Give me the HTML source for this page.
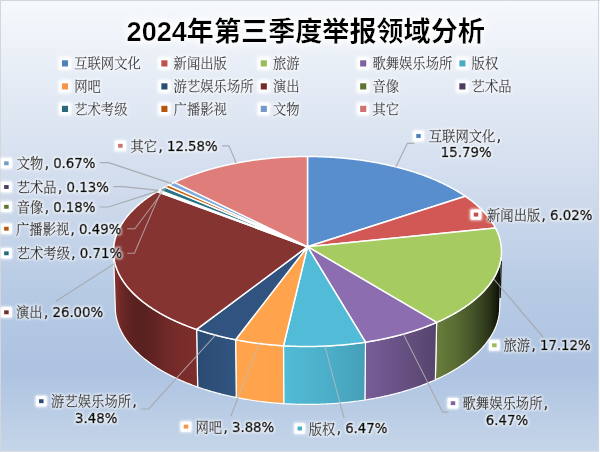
<!DOCTYPE html><html lang="zh"><head><meta charset="utf-8"><title>2024年第三季度举报领域分析</title><style>html,body{margin:0;padding:0;background:#fff;overflow:hidden;font-family:"Liberation Sans",sans-serif}#chart{position:relative;width:600px;height:452px;overflow:hidden}svg{display:block}.sr{position:absolute;left:0;top:0;width:1px;height:1px;overflow:hidden;opacity:0;pointer-events:none;font-size:1px;line-height:1px}</style></head><body><div id="chart"><svg width="600" height="452" viewBox="0 0 600 452"><defs><linearGradient id="bg" x1="0" y1="0" x2="0" y2="1"><stop offset="0" stop-color="#f6f9fc"/><stop offset="0.22" stop-color="#e2e9f4"/><stop offset="0.44" stop-color="#cedaec"/><stop offset="0.65" stop-color="#b6cae4"/><stop offset="0.82" stop-color="#adc3e1"/><stop offset="1" stop-color="#c6d6e9"/></linearGradient><filter id="glow" x="-10%" y="-30%" width="120%" height="160%">
<feMorphology in="SourceAlpha" operator="dilate" radius="1" result="d"/>
<feGaussianBlur in="d" stdDeviation="1.1" result="b"/>
<feFlood flood-color="#fff" flood-opacity="0.7"/><feComposite in2="b" operator="in" result="g"/>
<feMerge><feMergeNode in="g"/><feMergeNode in="SourceGraphic"/></feMerge></filter><filter id="soft" x="-30%" y="-30%" width="160%" height="160%"><feGaussianBlur stdDeviation="0.8"/></filter><filter id="tglow" x="-5%" y="-40%" width="110%" height="180%">
<feMorphology in="SourceAlpha" operator="dilate" radius="2" result="d"/>
<feGaussianBlur in="d" stdDeviation="3" result="b"/>
<feFlood flood-color="#fff" flood-opacity="0.9"/><feComposite in2="b" operator="in" result="g"/>
<feMerge><feMergeNode in="g"/><feMergeNode in="SourceGraphic"/></feMerge></filter><linearGradient id="w2" gradientUnits="userSpaceOnUse" x1="435.37" y1="0" x2="501.47" y2="0"><stop offset="0.019" stop-color="#687d3c"/><stop offset="0.095" stop-color="#64793a"/><stop offset="0.167" stop-color="#607437"/><stop offset="0.238" stop-color="#5d7035"/><stop offset="0.305" stop-color="#596c33"/><stop offset="0.370" stop-color="#556631"/><stop offset="0.432" stop-color="#50602e"/><stop offset="0.491" stop-color="#4b5b2b"/><stop offset="0.546" stop-color="#465528"/><stop offset="0.599" stop-color="#414f26"/><stop offset="0.649" stop-color="#3d4923"/><stop offset="0.695" stop-color="#384420"/><stop offset="0.739" stop-color="#333e1d"/><stop offset="0.779" stop-color="#2f381b"/><stop offset="0.816" stop-color="#293218"/><stop offset="0.849" stop-color="#242b14"/><stop offset="0.879" stop-color="#1e2411"/><stop offset="0.906" stop-color="#191f0f"/><stop offset="0.930" stop-color="#15190c"/><stop offset="0.950" stop-color="#101309"/><stop offset="0.967" stop-color="#0c0e07"/><stop offset="0.980" stop-color="#0a0c06"/><stop offset="0.990" stop-color="#090a05"/><stop offset="0.997" stop-color="#070804"/><stop offset="1.000" stop-color="#060703"/></linearGradient><linearGradient id="w3" gradientUnits="userSpaceOnUse" x1="364.91" y1="0" x2="436.63" y2="0"><stop offset="0.008" stop-color="#785d97"/><stop offset="0.054" stop-color="#765c95"/><stop offset="0.099" stop-color="#755b94"/><stop offset="0.144" stop-color="#735a92"/><stop offset="0.189" stop-color="#725990"/><stop offset="0.234" stop-color="#70588e"/><stop offset="0.278" stop-color="#6f578c"/><stop offset="0.322" stop-color="#6d558a"/><stop offset="0.365" stop-color="#6c5489"/><stop offset="0.408" stop-color="#6a5387"/><stop offset="0.451" stop-color="#695285"/><stop offset="0.493" stop-color="#685183"/><stop offset="0.535" stop-color="#665081"/><stop offset="0.577" stop-color="#654f80"/><stop offset="0.618" stop-color="#634e7e"/><stop offset="0.658" stop-color="#624d7c"/><stop offset="0.698" stop-color="#614c7a"/><stop offset="0.738" stop-color="#5f4b79"/><stop offset="0.777" stop-color="#5e4977"/><stop offset="0.815" stop-color="#5d4875"/><stop offset="0.853" stop-color="#5b4774"/><stop offset="0.891" stop-color="#5a4672"/><stop offset="0.928" stop-color="#594570"/><stop offset="0.964" stop-color="#57446f"/><stop offset="1.000" stop-color="#56436d"/></linearGradient><linearGradient id="w4" gradientUnits="userSpaceOnUse" x1="283.52" y1="0" x2="365.48" y2="0"><stop offset="0.000" stop-color="#52bbd8"/><stop offset="0.042" stop-color="#51bad6"/><stop offset="0.084" stop-color="#51b9d5"/><stop offset="0.126" stop-color="#50b8d4"/><stop offset="0.168" stop-color="#50b7d3"/><stop offset="0.210" stop-color="#50b6d2"/><stop offset="0.252" stop-color="#4fb5d1"/><stop offset="0.294" stop-color="#4fb4d0"/><stop offset="0.337" stop-color="#4eb3cf"/><stop offset="0.379" stop-color="#4eb2cd"/><stop offset="0.421" stop-color="#4db1cc"/><stop offset="0.463" stop-color="#4db1cb"/><stop offset="0.505" stop-color="#4db0ca"/><stop offset="0.547" stop-color="#4caec9"/><stop offset="0.589" stop-color="#4badc7"/><stop offset="0.631" stop-color="#4babc5"/><stop offset="0.672" stop-color="#4aaac4"/><stop offset="0.714" stop-color="#4aa9c2"/><stop offset="0.755" stop-color="#49a7c1"/><stop offset="0.797" stop-color="#48a6bf"/><stop offset="0.838" stop-color="#48a4bd"/><stop offset="0.879" stop-color="#47a3bc"/><stop offset="0.919" stop-color="#46a2ba"/><stop offset="0.960" stop-color="#46a0b9"/><stop offset="1.000" stop-color="#459fb7"/></linearGradient><linearGradient id="w5" gradientUnits="userSpaceOnUse" x1="235.55" y1="0" x2="283.76" y2="0"><stop offset="0.000" stop-color="#ffa34c"/><stop offset="0.040" stop-color="#ffa34c"/><stop offset="0.080" stop-color="#ffa34c"/><stop offset="0.120" stop-color="#ffa34c"/><stop offset="0.161" stop-color="#ffa34c"/><stop offset="0.201" stop-color="#ffa34c"/><stop offset="0.242" stop-color="#ffa34c"/><stop offset="0.283" stop-color="#ffa34c"/><stop offset="0.324" stop-color="#ffa34c"/><stop offset="0.365" stop-color="#ffa34c"/><stop offset="0.406" stop-color="#ffa34c"/><stop offset="0.447" stop-color="#ffa34c"/><stop offset="0.489" stop-color="#ffa34c"/><stop offset="0.531" stop-color="#ffa34c"/><stop offset="0.572" stop-color="#ffa34c"/><stop offset="0.614" stop-color="#ffa34c"/><stop offset="0.656" stop-color="#ffa34c"/><stop offset="0.698" stop-color="#ffa24c"/><stop offset="0.740" stop-color="#ffa24c"/><stop offset="0.783" stop-color="#ffa24c"/><stop offset="0.825" stop-color="#ffa24c"/><stop offset="0.867" stop-color="#ffa24c"/><stop offset="0.910" stop-color="#ffa24c"/><stop offset="0.952" stop-color="#ffa24c"/><stop offset="0.995" stop-color="#ffa24c"/></linearGradient><linearGradient id="w6" gradientUnits="userSpaceOnUse" x1="196.59" y1="0" x2="236.26" y2="0"><stop offset="0.000" stop-color="#2b4b71"/><stop offset="0.038" stop-color="#2b4b72"/><stop offset="0.077" stop-color="#2b4b73"/><stop offset="0.116" stop-color="#2b4c73"/><stop offset="0.155" stop-color="#2c4c74"/><stop offset="0.194" stop-color="#2c4d75"/><stop offset="0.233" stop-color="#2c4d76"/><stop offset="0.273" stop-color="#2c4e76"/><stop offset="0.313" stop-color="#2d4e77"/><stop offset="0.353" stop-color="#2d4f78"/><stop offset="0.394" stop-color="#2d4f78"/><stop offset="0.434" stop-color="#2e5079"/><stop offset="0.475" stop-color="#2e507a"/><stop offset="0.516" stop-color="#2e517a"/><stop offset="0.558" stop-color="#2e517b"/><stop offset="0.599" stop-color="#2f517c"/><stop offset="0.641" stop-color="#2f527c"/><stop offset="0.683" stop-color="#2f527d"/><stop offset="0.725" stop-color="#2f537e"/><stop offset="0.768" stop-color="#30537f"/><stop offset="0.810" stop-color="#30547f"/><stop offset="0.853" stop-color="#305480"/><stop offset="0.896" stop-color="#305581"/><stop offset="0.939" stop-color="#315581"/><stop offset="0.982" stop-color="#315682"/></linearGradient><linearGradient id="w7" gradientUnits="userSpaceOnUse" x1="113.53" y1="0" x2="197.67" y2="0"><stop offset="0.000" stop-color="#86322f"/><stop offset="0.003" stop-color="#86312f"/><stop offset="0.010" stop-color="#85312f"/><stop offset="0.020" stop-color="#82302e"/><stop offset="0.033" stop-color="#7f2f2d"/><stop offset="0.050" stop-color="#7a2d2b"/><stop offset="0.071" stop-color="#742b29"/><stop offset="0.095" stop-color="#6d2827"/><stop offset="0.122" stop-color="#682725"/><stop offset="0.153" stop-color="#642523"/><stop offset="0.187" stop-color="#5f2322"/><stop offset="0.224" stop-color="#5c2221"/><stop offset="0.265" stop-color="#5b2120"/><stop offset="0.309" stop-color="#59211f"/><stop offset="0.356" stop-color="#59211f"/><stop offset="0.406" stop-color="#5c2221"/><stop offset="0.460" stop-color="#5f2322"/><stop offset="0.516" stop-color="#652524"/><stop offset="0.575" stop-color="#6a2725"/><stop offset="0.637" stop-color="#6f2927"/><stop offset="0.702" stop-color="#732a29"/><stop offset="0.770" stop-color="#772c2a"/><stop offset="0.840" stop-color="#792d2b"/><stop offset="0.912" stop-color="#7b2d2b"/><stop offset="0.987" stop-color="#7d2e2c"/></linearGradient><clipPath id="sil"><polygon points="113.53,253.01 113.5,251.35 113.54,249.68 113.63,248.02 113.79,246.36 114,244.7 114.27,243.05 114.6,241.4 114.99,239.75 115.44,238.11 115.94,236.48 116.5,234.85 117.12,233.23 117.8,231.61 118.53,230 119.32,228.4 120.17,226.81 121.07,225.23 122.02,223.66 123.03,222.09 124.09,220.54 125.21,218.99 126.38,217.46 127.6,215.94 128.88,214.43 130.2,212.93 131.58,211.45 133.01,209.98 134.49,208.52 136.02,207.07 137.59,205.64 139.22,204.23 140.89,202.83 142.62,201.44 144.38,200.07 146.2,198.72 148.06,197.38 149.96,196.06 151.91,194.75 153.9,193.47 155.94,192.2 158.01,190.94 160.13,189.71 162.29,188.5 164.49,187.3 166.73,186.13 169.01,184.97 171.33,183.83 173.68,182.71 176.07,181.62 178.5,180.54 180.96,179.49 183.46,178.45 185.99,177.44 188.55,176.45 191.15,175.48 193.77,174.53 196.43,173.6 199.12,172.7 201.84,171.82 204.58,170.96 207.36,170.13 210.16,169.32 212.98,168.53 215.83,167.77 218.71,167.03 221.61,166.31 224.53,165.62 227.48,164.95 230.45,164.31 233.43,163.69 236.44,163.1 239.46,162.53 242.51,161.98 245.57,161.46 248.65,160.97 251.74,160.5 254.85,160.06 257.97,159.64 261.1,159.25 264.25,158.88 267.41,158.54 270.57,158.23 273.75,157.94 276.94,157.68 280.14,157.44 283.34,157.23 286.55,157.05 289.76,156.89 292.98,156.76 296.2,156.65 299.43,156.57 302.66,156.52 305.89,156.5 309.11,156.5 312.34,156.52 315.57,156.57 318.8,156.65 322.02,156.76 325.24,156.89 328.45,157.05 331.66,157.23 334.86,157.44 338.06,157.68 341.25,157.94 344.43,158.23 347.59,158.54 350.75,158.88 353.9,159.25 357.03,159.64 360.15,160.06 363.26,160.5 366.35,160.97 369.43,161.46 372.49,161.98 375.54,162.53 378.56,163.1 381.57,163.69 384.55,164.31 387.52,164.95 390.47,165.62 393.39,166.31 396.29,167.03 399.17,167.77 402.02,168.53 404.84,169.32 407.64,170.13 410.42,170.96 413.16,171.82 415.88,172.7 418.57,173.6 421.23,174.53 423.85,175.48 426.45,176.45 429.01,177.44 431.54,178.45 434.04,179.49 436.5,180.54 438.93,181.62 441.32,182.71 443.67,183.83 445.99,184.97 448.27,186.13 450.51,187.3 452.71,188.5 454.87,189.71 456.99,190.94 459.06,192.2 461.1,193.47 463.09,194.75 465.04,196.06 466.94,197.38 468.8,198.72 470.62,200.07 472.38,201.44 474.11,202.83 475.78,204.23 477.41,205.64 478.98,207.07 480.51,208.52 481.99,209.98 483.42,211.45 484.8,212.93 486.12,214.43 487.4,215.94 488.62,217.46 489.79,218.99 490.91,220.54 491.97,222.09 492.98,223.66 493.93,225.23 494.83,226.81 495.68,228.4 496.47,230 497.2,231.61 497.88,233.23 498.5,234.85 499.06,236.48 499.56,238.11 500.01,239.75 500.4,241.4 500.73,243.05 501,244.7 501.21,246.36 501.37,248.02 501.46,249.68 501.5,251.35 501.47,253.01 499.65,309.09 499.56,310.79 499.42,312.49 499.22,314.18 498.95,315.88 498.63,317.58 498.25,319.28 497.81,320.97 497.31,322.66 496.75,324.35 496.13,326.03 495.45,327.71 494.71,329.39 493.91,331.06 493.05,332.72 492.13,334.38 491.16,336.03 490.12,337.67 489.03,339.31 487.88,340.93 486.67,342.55 485.4,344.15 484.07,345.75 482.69,347.33 481.25,348.91 479.75,350.47 478.2,352.02 476.59,353.55 474.92,355.07 473.2,356.58 471.43,358.08 469.6,359.55 467.71,361.02 465.78,362.46 463.79,363.89 461.75,365.3 459.65,366.7 457.51,368.07 455.31,369.43 453.07,370.77 450.78,372.09 448.43,373.38 446.04,374.66 443.61,375.92 441.12,377.15 438.6,378.36 436.02,379.55 433.41,380.72 430.75,381.86 428.04,382.98 425.3,384.07 422.51,385.14 419.69,386.18 416.83,387.2 413.93,388.19 410.99,389.16 408.01,390.1 405.01,391.01 401.96,391.9 398.89,392.75 395.78,393.58 392.64,394.38 389.48,395.15 386.28,395.89 383.06,396.61 379.81,397.29 376.53,397.94 373.23,398.57 369.91,399.16 366.56,399.72 363.2,400.25 359.81,400.75 356.41,401.22 352.99,401.66 349.55,402.06 346.1,402.44 342.63,402.78 339.16,403.09 335.67,403.37 332.17,403.61 328.66,403.82 325.15,404 321.62,404.15 318.1,404.27 314.57,404.35 311.03,404.4 307.5,404.41 303.97,404.4 300.43,404.35 296.9,404.27 293.38,404.15 289.85,404 286.34,403.82 282.83,403.61 279.33,403.37 275.84,403.09 272.37,402.78 268.9,402.44 265.45,402.06 262.01,401.66 258.59,401.22 255.19,400.75 251.8,400.25 248.44,399.72 245.09,399.16 241.77,398.57 238.47,397.94 235.19,397.29 231.94,396.61 228.72,395.89 225.52,395.15 222.36,394.38 219.22,393.58 216.11,392.75 213.04,391.9 209.99,391.01 206.99,390.1 204.01,389.16 201.07,388.19 198.17,387.2 195.31,386.18 192.49,385.14 189.7,384.07 186.96,382.98 184.25,381.86 181.59,380.72 178.98,379.55 176.4,378.36 173.88,377.15 171.39,375.92 168.96,374.66 166.57,373.38 164.22,372.09 161.93,370.77 159.69,369.43 157.49,368.07 155.35,366.7 153.25,365.3 151.21,363.89 149.22,362.46 147.29,361.02 145.4,359.55 143.57,358.08 141.8,356.58 140.08,355.07 138.41,353.55 136.8,352.02 135.25,350.47 133.75,348.91 132.31,347.33 130.93,345.75 129.6,344.15 128.33,342.55 127.12,340.93 125.97,339.31 124.88,337.67 123.84,336.03 122.87,334.38 121.95,332.72 121.09,331.06 120.29,329.39 119.55,327.71 118.87,326.03 118.25,324.35 117.69,322.66 117.19,320.97 116.75,319.28 116.37,317.58 116.05,315.88 115.78,314.18 115.58,312.49 115.44,310.79 115.35,309.09"/></clipPath><clipPath id="nsil"><path clip-rule="evenodd" d="M0,0H600V452H0Z M113.53,253.01 L113.5,251.35 L113.54,249.68 L113.63,248.02 L113.79,246.36 L114,244.7 L114.27,243.05 L114.6,241.4 L114.99,239.75 L115.44,238.11 L115.94,236.48 L116.5,234.85 L117.12,233.23 L117.8,231.61 L118.53,230 L119.32,228.4 L120.17,226.81 L121.07,225.23 L122.02,223.66 L123.03,222.09 L124.09,220.54 L125.21,218.99 L126.38,217.46 L127.6,215.94 L128.88,214.43 L130.2,212.93 L131.58,211.45 L133.01,209.98 L134.49,208.52 L136.02,207.07 L137.59,205.64 L139.22,204.23 L140.89,202.83 L142.62,201.44 L144.38,200.07 L146.2,198.72 L148.06,197.38 L149.96,196.06 L151.91,194.75 L153.9,193.47 L155.94,192.2 L158.01,190.94 L160.13,189.71 L162.29,188.5 L164.49,187.3 L166.73,186.13 L169.01,184.97 L171.33,183.83 L173.68,182.71 L176.07,181.62 L178.5,180.54 L180.96,179.49 L183.46,178.45 L185.99,177.44 L188.55,176.45 L191.15,175.48 L193.77,174.53 L196.43,173.6 L199.12,172.7 L201.84,171.82 L204.58,170.96 L207.36,170.13 L210.16,169.32 L212.98,168.53 L215.83,167.77 L218.71,167.03 L221.61,166.31 L224.53,165.62 L227.48,164.95 L230.45,164.31 L233.43,163.69 L236.44,163.1 L239.46,162.53 L242.51,161.98 L245.57,161.46 L248.65,160.97 L251.74,160.5 L254.85,160.06 L257.97,159.64 L261.1,159.25 L264.25,158.88 L267.41,158.54 L270.57,158.23 L273.75,157.94 L276.94,157.68 L280.14,157.44 L283.34,157.23 L286.55,157.05 L289.76,156.89 L292.98,156.76 L296.2,156.65 L299.43,156.57 L302.66,156.52 L305.89,156.5 L309.11,156.5 L312.34,156.52 L315.57,156.57 L318.8,156.65 L322.02,156.76 L325.24,156.89 L328.45,157.05 L331.66,157.23 L334.86,157.44 L338.06,157.68 L341.25,157.94 L344.43,158.23 L347.59,158.54 L350.75,158.88 L353.9,159.25 L357.03,159.64 L360.15,160.06 L363.26,160.5 L366.35,160.97 L369.43,161.46 L372.49,161.98 L375.54,162.53 L378.56,163.1 L381.57,163.69 L384.55,164.31 L387.52,164.95 L390.47,165.62 L393.39,166.31 L396.29,167.03 L399.17,167.77 L402.02,168.53 L404.84,169.32 L407.64,170.13 L410.42,170.96 L413.16,171.82 L415.88,172.7 L418.57,173.6 L421.23,174.53 L423.85,175.48 L426.45,176.45 L429.01,177.44 L431.54,178.45 L434.04,179.49 L436.5,180.54 L438.93,181.62 L441.32,182.71 L443.67,183.83 L445.99,184.97 L448.27,186.13 L450.51,187.3 L452.71,188.5 L454.87,189.71 L456.99,190.94 L459.06,192.2 L461.1,193.47 L463.09,194.75 L465.04,196.06 L466.94,197.38 L468.8,198.72 L470.62,200.07 L472.38,201.44 L474.11,202.83 L475.78,204.23 L477.41,205.64 L478.98,207.07 L480.51,208.52 L481.99,209.98 L483.42,211.45 L484.8,212.93 L486.12,214.43 L487.4,215.94 L488.62,217.46 L489.79,218.99 L490.91,220.54 L491.97,222.09 L492.98,223.66 L493.93,225.23 L494.83,226.81 L495.68,228.4 L496.47,230 L497.2,231.61 L497.88,233.23 L498.5,234.85 L499.06,236.48 L499.56,238.11 L500.01,239.75 L500.4,241.4 L500.73,243.05 L501,244.7 L501.21,246.36 L501.37,248.02 L501.46,249.68 L501.5,251.35 L501.47,253.01 L499.65,309.09 L499.56,310.79 L499.42,312.49 L499.22,314.18 L498.95,315.88 L498.63,317.58 L498.25,319.28 L497.81,320.97 L497.31,322.66 L496.75,324.35 L496.13,326.03 L495.45,327.71 L494.71,329.39 L493.91,331.06 L493.05,332.72 L492.13,334.38 L491.16,336.03 L490.12,337.67 L489.03,339.31 L487.88,340.93 L486.67,342.55 L485.4,344.15 L484.07,345.75 L482.69,347.33 L481.25,348.91 L479.75,350.47 L478.2,352.02 L476.59,353.55 L474.92,355.07 L473.2,356.58 L471.43,358.08 L469.6,359.55 L467.71,361.02 L465.78,362.46 L463.79,363.89 L461.75,365.3 L459.65,366.7 L457.51,368.07 L455.31,369.43 L453.07,370.77 L450.78,372.09 L448.43,373.38 L446.04,374.66 L443.61,375.92 L441.12,377.15 L438.6,378.36 L436.02,379.55 L433.41,380.72 L430.75,381.86 L428.04,382.98 L425.3,384.07 L422.51,385.14 L419.69,386.18 L416.83,387.2 L413.93,388.19 L410.99,389.16 L408.01,390.1 L405.01,391.01 L401.96,391.9 L398.89,392.75 L395.78,393.58 L392.64,394.38 L389.48,395.15 L386.28,395.89 L383.06,396.61 L379.81,397.29 L376.53,397.94 L373.23,398.57 L369.91,399.16 L366.56,399.72 L363.2,400.25 L359.81,400.75 L356.41,401.22 L352.99,401.66 L349.55,402.06 L346.1,402.44 L342.63,402.78 L339.16,403.09 L335.67,403.37 L332.17,403.61 L328.66,403.82 L325.15,404 L321.62,404.15 L318.1,404.27 L314.57,404.35 L311.03,404.4 L307.5,404.41 L303.97,404.4 L300.43,404.35 L296.9,404.27 L293.38,404.15 L289.85,404 L286.34,403.82 L282.83,403.61 L279.33,403.37 L275.84,403.09 L272.37,402.78 L268.9,402.44 L265.45,402.06 L262.01,401.66 L258.59,401.22 L255.19,400.75 L251.8,400.25 L248.44,399.72 L245.09,399.16 L241.77,398.57 L238.47,397.94 L235.19,397.29 L231.94,396.61 L228.72,395.89 L225.52,395.15 L222.36,394.38 L219.22,393.58 L216.11,392.75 L213.04,391.9 L209.99,391.01 L206.99,390.1 L204.01,389.16 L201.07,388.19 L198.17,387.2 L195.31,386.18 L192.49,385.14 L189.7,384.07 L186.96,382.98 L184.25,381.86 L181.59,380.72 L178.98,379.55 L176.4,378.36 L173.88,377.15 L171.39,375.92 L168.96,374.66 L166.57,373.38 L164.22,372.09 L161.93,370.77 L159.69,369.43 L157.49,368.07 L155.35,366.7 L153.25,365.3 L151.21,363.89 L149.22,362.46 L147.29,361.02 L145.4,359.55 L143.57,358.08 L141.8,356.58 L140.08,355.07 L138.41,353.55 L136.8,352.02 L135.25,350.47 L133.75,348.91 L132.31,347.33 L130.93,345.75 L129.6,344.15 L128.33,342.55 L127.12,340.93 L125.97,339.31 L124.88,337.67 L123.84,336.03 L122.87,334.38 L121.95,332.72 L121.09,331.06 L120.29,329.39 L119.55,327.71 L118.87,326.03 L118.25,324.35 L117.69,322.66 L117.19,320.97 L116.75,319.28 L116.37,317.58 L116.05,315.88 L115.78,314.18 L115.58,312.49 L115.44,310.79 L115.35,309.09 Z"/></clipPath></defs><rect x="0" y="0" width="600" height="452" fill="url(#bg)"/><path d="M0,0.5H600M0.5,0V452" stroke="#d4d7d9" stroke-width="1" fill="none"/><path d="M598.5,1V452" stroke="#d0d6e2" stroke-width="1"/><path d="M599.5,1V452" stroke="#fafbfc" stroke-width="1"/><path d="M1,451.5H599" stroke="#dadfe9" stroke-width="1"/><g filter="url(#tglow)" fill="#000"><text x="126.6" y="41" font-size="27.1" font-weight="bold" font-family="&quot;Liberation Sans&quot;, &quot;Noto Sans CJK SC&quot;, sans-serif">2024年第三季度举报领域分析</text></g><g filter="url(#glow)"><rect x="59.2" y="57.5" width="11.6" height="11.8" rx="1.5" fill="#fff" filter="url(#soft)"/><rect x="61.95" y="60.3" width="6.1" height="6.2" fill="#4F81BD"/><rect x="158.6" y="57.5" width="11.6" height="11.8" rx="1.5" fill="#fff" filter="url(#soft)"/><rect x="161.35" y="60.3" width="6.1" height="6.2" fill="#C0504D"/><rect x="258" y="57.5" width="11.6" height="11.8" rx="1.5" fill="#fff" filter="url(#soft)"/><rect x="260.75" y="60.3" width="6.1" height="6.2" fill="#9BBB59"/><rect x="357.4" y="57.5" width="11.6" height="11.8" rx="1.5" fill="#fff" filter="url(#soft)"/><rect x="360.15" y="60.3" width="6.1" height="6.2" fill="#8064A2"/><rect x="456.6" y="57.5" width="11.6" height="11.8" rx="1.5" fill="#fff" filter="url(#soft)"/><rect x="459.35" y="60.3" width="6.1" height="6.2" fill="#4BACC6"/><rect x="59.2" y="80.5" width="11.6" height="11.8" rx="1.5" fill="#fff" filter="url(#soft)"/><rect x="61.95" y="83.3" width="6.1" height="6.2" fill="#F79646"/><rect x="158.6" y="80.5" width="11.6" height="11.8" rx="1.5" fill="#fff" filter="url(#soft)"/><rect x="161.35" y="83.3" width="6.1" height="6.2" fill="#2C4D75"/><rect x="258" y="80.5" width="11.6" height="11.8" rx="1.5" fill="#fff" filter="url(#soft)"/><rect x="260.75" y="83.3" width="6.1" height="6.2" fill="#772C2A"/><rect x="357.4" y="80.5" width="11.6" height="11.8" rx="1.5" fill="#fff" filter="url(#soft)"/><rect x="360.15" y="83.3" width="6.1" height="6.2" fill="#5F7530"/><rect x="456.6" y="80.5" width="11.6" height="11.8" rx="1.5" fill="#fff" filter="url(#soft)"/><rect x="459.35" y="83.3" width="6.1" height="6.2" fill="#4D3B62"/><rect x="59.2" y="103" width="11.6" height="11.8" rx="1.5" fill="#fff" filter="url(#soft)"/><rect x="61.95" y="105.8" width="6.1" height="6.2" fill="#276A7C"/><rect x="158.6" y="103" width="11.6" height="11.8" rx="1.5" fill="#fff" filter="url(#soft)"/><rect x="161.35" y="105.8" width="6.1" height="6.2" fill="#B65708"/><rect x="258" y="103" width="11.6" height="11.8" rx="1.5" fill="#fff" filter="url(#soft)"/><rect x="260.75" y="105.8" width="6.1" height="6.2" fill="#729ACA"/><rect x="357.4" y="103" width="11.6" height="11.8" rx="1.5" fill="#fff" filter="url(#soft)"/><rect x="360.15" y="105.8" width="6.1" height="6.2" fill="#CD7371"/><g fill="#1a1e2c" stroke="#1a1e2c" stroke-width="0.25" font-size="13.33" font-family="&quot;Liberation Serif&quot;, &quot;Noto Serif CJK SC&quot;, serif"><text x="74.2" y="68">互联网文化</text><text x="173.6" y="68">新闻出版</text><text x="273" y="68">旅游</text><text x="372.4" y="68">歌舞娱乐场所</text><text x="471.6" y="68">版权</text><text x="74.2" y="91">网吧</text><text x="173.6" y="91">游艺娱乐场所</text><text x="273" y="91">演出</text><text x="372.4" y="91">音像</text><text x="471.6" y="91">艺术品</text><text x="74.2" y="113.5">艺术考级</text><text x="173.6" y="113.5">广播影视</text><text x="273" y="113.5">文物</text><text x="372.4" y="113.5">其它</text></g></g><g><polygon points="501.47,253.01 501.44,253.85 501.39,254.69 501.32,255.52 501.24,256.36 501.15,257.2 501.04,258.04 500.91,258.87 500.77,259.71 500.62,260.55 500.44,261.38 500.26,262.22 500.06,263.06 499.84,263.89 499.61,264.73 499.36,265.56 499.1,266.39 498.82,267.23 498.53,268.06 498.22,268.89 497.9,269.72 497.56,270.55 497.2,271.37 496.84,272.2 496.45,273.02 496.05,273.85 495.64,274.67 495.21,275.49 494.77,276.31 494.31,277.13 493.83,277.94 493.34,278.76 492.84,279.57 492.32,280.38 491.78,281.19 491.23,281.99 490.67,282.8 490.09,283.6 489.49,284.4 488.88,285.2 488.26,285.99 487.62,286.78 486.97,287.57 486.3,288.36 485.62,289.14 484.92,289.93 484.21,290.71 483.48,291.48 482.74,292.26 481.98,293.03 481.21,293.79 480.43,294.56 479.63,295.32 478.81,296.08 477.99,296.83 477.14,297.58 476.29,298.33 475.42,299.08 474.53,299.82 473.64,300.55 472.72,301.29 471.8,302.02 470.86,302.74 469.91,303.46 468.94,304.18 467.96,304.89 466.96,305.6 465.96,306.31 464.94,307.01 463.9,307.71 462.85,308.4 461.79,309.09 460.72,309.77 459.63,310.45 458.53,311.12 457.42,311.79 456.3,312.46 455.16,313.12 454.01,313.77 452.84,314.42 451.67,315.07 450.48,315.71 449.28,316.34 448.07,316.97 446.84,317.6 445.61,318.22 444.36,318.83 443.1,319.44 441.83,320.04 440.54,320.64 439.25,321.23 437.94,321.82 436.63,322.4 435.37,379.85 436.67,379.25 437.97,378.66 439.25,378.05 440.52,377.44 441.78,376.83 443.03,376.21 444.26,375.58 445.49,374.95 446.7,374.31 447.9,373.67 449.09,373.02 450.27,372.37 451.43,371.71 452.58,371.05 453.72,370.38 454.85,369.71 455.97,369.03 457.07,368.35 458.16,367.66 459.24,366.97 460.3,366.27 461.35,365.57 462.39,364.87 463.41,364.16 464.42,363.44 465.42,362.72 466.41,362 467.38,361.27 468.34,360.54 469.28,359.8 470.21,359.06 471.13,358.32 472.03,357.57 472.92,356.82 473.8,356.07 474.66,355.31 475.51,354.54 476.35,353.78 477.17,353.01 477.97,352.24 478.76,351.46 479.54,350.68 480.31,349.9 481.06,349.11 481.79,348.32 482.51,347.53 483.22,346.74 483.91,345.94 484.59,345.14 485.25,344.34 485.9,343.53 486.53,342.72 487.15,341.91 487.75,341.1 488.34,340.28 488.92,339.47 489.48,338.65 490.02,337.82 490.55,337 491.07,336.17 491.57,335.34 492.06,334.51 492.53,333.68 492.98,332.85 493.42,332.01 493.85,331.18 494.26,330.34 494.66,329.5 495.04,328.66 495.4,327.82 495.75,326.97 496.09,326.13 496.41,325.28 496.72,324.43 497.01,323.59 497.28,322.74 497.54,321.89 497.79,321.04 498.02,320.18 498.24,319.33 498.44,318.48 498.62,317.63 498.79,316.77 498.95,315.92 499.09,315.07 499.21,314.21 499.32,313.36 499.42,312.5 499.5,311.65 499.56,310.8 499.61,309.94 499.65,309.09" fill="url(#w2)" stroke="#fff" stroke-width="1.2" stroke-linejoin="round"/><polygon points="436.63,322.4 435.29,322.98 433.95,323.55 432.59,324.12 431.22,324.68 429.84,325.23 428.45,325.78 427.05,326.32 425.64,326.86 424.22,327.38 422.79,327.91 421.34,328.42 419.89,328.93 418.43,329.44 416.96,329.94 415.48,330.43 413.99,330.91 412.49,331.39 410.98,331.86 409.46,332.32 407.93,332.78 406.39,333.23 404.85,333.68 403.29,334.11 401.73,334.54 400.16,334.97 398.58,335.38 396.99,335.79 395.4,336.19 393.79,336.59 392.18,336.97 390.56,337.35 388.94,337.73 387.31,338.09 385.66,338.45 384.02,338.8 382.36,339.14 380.7,339.48 379.03,339.81 377.36,340.13 375.68,340.44 373.99,340.75 372.3,341.05 370.6,341.34 368.9,341.62 367.19,341.89 365.48,342.16 364.91,399.99 366.6,399.72 368.3,399.44 369.98,399.15 371.66,398.85 373.34,398.55 375.01,398.24 376.67,397.92 378.33,397.59 379.98,397.26 381.63,396.91 383.27,396.56 384.9,396.21 386.52,395.84 388.14,395.47 389.75,395.09 391.35,394.7 392.95,394.31 394.53,393.9 396.11,393.49 397.69,393.08 399.25,392.65 400.81,392.22 402.35,391.78 403.89,391.34 405.42,390.89 406.95,390.43 408.46,389.96 409.96,389.49 411.46,389.01 412.94,388.52 414.42,388.03 415.89,387.53 417.34,387.02 418.79,386.51 420.23,385.99 421.66,385.46 423.08,384.93 424.48,384.39 425.88,383.84 427.27,383.29 428.65,382.73 430.01,382.17 431.37,381.59 432.71,381.02 434.05,380.43 435.37,379.85" fill="url(#w3)" stroke="#fff" stroke-width="1.2" stroke-linejoin="round"/><polygon points="365.48,342.16 363.76,342.42 362.03,342.67 360.3,342.92 358.57,343.15 356.83,343.38 355.08,343.6 353.34,343.81 351.58,344.02 349.83,344.21 348.07,344.4 346.3,344.58 344.54,344.76 342.77,344.92 340.99,345.08 339.22,345.22 337.44,345.37 335.65,345.5 333.87,345.62 332.08,345.74 330.29,345.85 328.5,345.94 326.71,346.04 324.91,346.12 323.12,346.19 321.32,346.26 319.52,346.32 317.72,346.37 315.92,346.41 314.12,346.45 312.31,346.47 310.51,346.49 308.71,346.5 306.9,346.5 305.1,346.5 303.3,346.48 301.49,346.46 299.69,346.43 297.89,346.39 296.09,346.34 294.29,346.28 292.49,346.22 290.69,346.15 288.9,346.07 287.1,345.98 285.31,345.88 283.52,345.77 283.76,403.67 285.53,403.78 287.31,403.88 289.08,403.97 290.86,404.05 292.64,404.12 294.42,404.19 296.2,404.25 297.98,404.29 299.77,404.33 301.55,404.37 303.34,404.39 305.12,404.41 306.91,404.41 308.7,404.41 310.48,404.4 312.27,404.38 314.05,404.36 315.84,404.32 317.62,404.28 319.4,404.23 321.18,404.17 322.96,404.1 324.74,404.02 326.52,403.94 328.3,403.84 330.07,403.74 331.84,403.63 333.61,403.51 335.38,403.39 337.14,403.25 338.9,403.11 340.66,402.96 342.42,402.8 344.17,402.63 345.92,402.46 347.67,402.27 349.41,402.08 351.15,401.88 352.88,401.67 354.61,401.46 356.34,401.23 358.06,401 359.78,400.76 361.49,400.51 363.2,400.25 364.91,399.99" fill="url(#w4)" stroke="#fff" stroke-width="1.2" stroke-linejoin="round"/><polygon points="283.52,345.77 281.7,345.66 279.87,345.53 278.05,345.4 276.23,345.26 274.42,345.11 272.6,344.95 270.79,344.79 268.99,344.61 267.18,344.43 265.39,344.24 263.59,344.04 261.8,343.83 260.01,343.61 258.23,343.39 256.46,343.16 254.68,342.91 252.92,342.67 251.15,342.41 249.4,342.14 247.65,341.87 245.9,341.59 244.16,341.3 242.43,341 240.7,340.69 238.98,340.38 237.26,340.06 235.55,339.73 236.26,397.51 237.95,397.84 239.65,398.17 241.36,398.49 243.07,398.8 244.78,399.11 246.51,399.4 248.24,399.69 249.97,399.97 251.71,400.24 253.45,400.5 255.2,400.76 256.96,401 258.72,401.24 260.48,401.47 262.25,401.69 264.02,401.9 265.8,402.1 267.58,402.3 269.37,402.49 271.15,402.66 272.95,402.83 274.74,402.99 276.54,403.15 278.34,403.29 280.14,403.43 281.95,403.55 283.76,403.67" fill="url(#w5)" stroke="#fff" stroke-width="1.2" stroke-linejoin="round"/><polygon points="235.55,339.73 233.9,339.4 232.26,339.07 230.63,338.73 229,338.38 227.37,338.02 225.76,337.66 224.15,337.29 222.55,336.91 220.96,336.53 219.37,336.13 217.79,335.74 216.22,335.33 214.66,334.92 213.11,334.5 211.56,334.07 210.03,333.64 208.5,333.2 206.98,332.75 205.46,332.3 203.96,331.84 202.47,331.37 200.98,330.9 199.51,330.42 198.04,329.94 196.59,329.44 197.67,387.03 199.11,387.53 200.57,388.02 202.03,388.51 203.5,388.99 204.98,389.47 206.46,389.94 207.96,390.4 209.47,390.85 210.98,391.3 212.5,391.74 214.03,392.18 215.57,392.61 217.12,393.03 218.68,393.44 220.24,393.85 221.81,394.24 223.39,394.64 224.97,395.02 226.56,395.4 228.16,395.77 229.77,396.13 231.38,396.49 233,396.83 234.63,397.17 236.26,397.51" fill="url(#w6)" stroke="#fff" stroke-width="1.2" stroke-linejoin="round"/><polygon points="196.59,329.44 195.13,328.94 193.68,328.43 192.25,327.92 190.82,327.4 189.41,326.87 188,326.34 186.61,325.8 185.22,325.25 183.85,324.7 182.48,324.15 181.13,323.58 179.79,323.01 178.46,322.44 177.14,321.86 175.83,321.27 174.54,320.68 173.25,320.08 171.98,319.48 170.72,318.87 169.47,318.26 168.23,317.64 167.01,317.01 165.79,316.38 164.59,315.75 163.4,315.11 162.22,314.46 161.06,313.81 159.91,313.15 158.77,312.49 157.64,311.83 156.53,311.16 155.43,310.49 154.34,309.81 153.26,309.12 152.2,308.43 151.15,307.74 150.12,307.04 149.09,306.34 148.08,305.64 147.09,304.93 146.11,304.21 145.14,303.5 144.18,302.77 143.24,302.05 142.32,301.32 141.4,300.58 140.5,299.85 139.62,299.11 138.75,298.36 137.89,297.61 137.05,296.86 136.22,296.11 135.4,295.35 134.6,294.59 133.82,293.82 133.05,293.05 132.29,292.28 131.55,291.51 130.82,290.73 130.1,289.95 129.41,289.17 128.72,288.38 128.05,287.6 127.4,286.81 126.76,286.01 126.13,285.22 125.52,284.42 124.93,283.62 124.35,282.82 123.78,282.01 123.23,281.21 122.7,280.4 122.18,279.59 121.67,278.77 121.18,277.96 120.7,277.14 120.24,276.33 119.8,275.51 119.37,274.68 118.95,273.86 118.55,273.04 118.17,272.21 117.8,271.39 117.45,270.56 117.11,269.73 116.78,268.9 116.48,268.07 116.18,267.24 115.9,266.4 115.64,265.57 115.39,264.73 115.16,263.9 114.95,263.06 114.74,262.23 114.56,261.39 114.39,260.55 114.23,259.72 114.09,258.88 113.96,258.04 113.85,257.2 113.76,256.36 113.68,255.53 113.61,254.69 113.56,253.85 113.53,253.01 115.35,309.09 115.39,309.94 115.44,310.8 115.5,311.65 115.58,312.51 115.68,313.36 115.79,314.22 115.91,315.07 116.05,315.93 116.21,316.78 116.38,317.63 116.57,318.49 116.77,319.34 116.98,320.19 117.21,321.04 117.46,321.9 117.72,322.75 118,323.6 118.29,324.44 118.59,325.29 118.91,326.14 119.25,326.98 119.6,327.83 119.97,328.67 120.35,329.51 120.75,330.35 121.16,331.19 121.59,332.03 122.03,332.87 122.48,333.7 122.95,334.53 123.44,335.36 123.94,336.19 124.46,337.02 124.99,337.84 125.54,338.67 126.1,339.49 126.67,340.31 127.26,341.12 127.87,341.94 128.49,342.75 129.12,343.55 129.77,344.36 130.43,345.16 131.11,345.97 131.81,346.76 132.51,347.56 133.23,348.35 133.97,349.14 134.72,349.93 135.49,350.71 136.26,351.49 137.06,352.27 137.87,353.04 138.69,353.81 139.52,354.57 140.37,355.34 141.24,356.1 142.11,356.85 143,357.6 143.91,358.35 144.83,359.1 145.76,359.84 146.71,360.57 147.67,361.3 148.64,362.03 149.63,362.76 150.62,363.48 151.64,364.19 152.66,364.9 153.7,365.61 154.76,366.31 155.82,367.01 156.9,367.7 157.99,368.39 159.09,369.07 160.21,369.75 161.34,370.42 162.48,371.09 163.63,371.75 164.8,372.41 165.98,373.06 167.17,373.71 168.37,374.35 169.59,374.99 170.81,375.62 172.05,376.25 173.3,376.87 174.56,377.48 175.83,378.09 177.12,378.69 178.41,379.29 179.72,379.88 181.04,380.47 182.37,381.05 183.7,381.63 185.05,382.19 186.42,382.76 187.79,383.31 189.17,383.86 190.56,384.4 191.96,384.94 193.38,385.47 194.8,386 196.23,386.51 197.67,387.03" fill="url(#w7)" stroke="#fff" stroke-width="1.2" stroke-linejoin="round"/><path d="M501.32,261.01L500.11,297.87" stroke="#10160a" stroke-width="1.3" fill="none"/></g><g><polygon points="307.5,246.7 307.5,156.49 309.12,156.5 310.74,156.51 312.36,156.52 313.98,156.55 315.6,156.58 317.21,156.61 318.83,156.65 320.45,156.7 322.06,156.76 323.68,156.82 325.29,156.89 326.9,156.97 328.51,157.05 330.12,157.14 331.73,157.24 333.34,157.34 334.94,157.45 336.55,157.56 338.15,157.69 339.75,157.81 341.34,157.95 342.94,158.09 344.53,158.24 346.12,158.39 347.71,158.56 349.29,158.72 350.88,158.9 352.45,159.08 354.03,159.27 355.6,159.46 357.17,159.66 358.74,159.87 360.3,160.08 361.86,160.3 363.42,160.52 364.97,160.76 366.52,161 368.06,161.24 369.61,161.49 371.14,161.75 372.67,162.01 374.2,162.28 375.73,162.56 377.24,162.84 378.76,163.13 380.27,163.43 381.77,163.73 383.27,164.04 384.77,164.35 386.26,164.67 387.74,165 389.22,165.33 390.69,165.67 392.16,166.02 393.62,166.37 395.08,166.72 396.53,167.09 397.97,167.46 399.41,167.83 400.84,168.21 402.27,168.6 403.69,168.99 405.1,169.39 406.51,169.8 407.91,170.21 409.3,170.62 410.69,171.05 412.07,171.47 413.44,171.91 414.8,172.35 416.16,172.79 417.51,173.24 418.85,173.7 420.19,174.16 421.52,174.63 422.84,175.11 424.15,175.58 425.45,176.07 426.75,176.56 428.03,177.06 429.31,177.56 430.58,178.06 431.85,178.58 433.1,179.09 434.35,179.62 435.58,180.14 436.81,180.68 438.03,181.21 439.24,181.76 440.44,182.31 441.63,182.86 442.82,183.42 443.99,183.98 445.15,184.55 446.31,185.13 447.45,185.71 448.59,186.29 449.71,186.88 450.83,187.47 451.93,188.07 453.03,188.67 454.11,189.28 455.19,189.9 456.25,190.51 457.31,191.13 458.35,191.76 459.38,192.39 460.41,193.03 461.42,193.67 462.42,194.31 463.41,194.96 464.39,195.61 465.36,196.27" fill="#588DCE" stroke="#fff" stroke-width="1.5" stroke-linejoin="round"/><polygon points="307.5,246.7 465.36,196.27 466.31,196.94 467.26,197.6 468.2,198.27 469.12,198.95 470.04,199.63 470.94,200.31 471.83,201 472.7,201.69 473.57,202.39 474.42,203.09 475.27,203.79 476.1,204.5 476.92,205.21 477.72,205.93 478.52,206.64 479.3,207.37 480.07,208.09 480.82,208.82 481.57,209.55 482.3,210.29 483.02,211.03 483.72,211.77 484.41,212.52 485.09,213.26 485.76,214.02 486.42,214.77 487.06,215.53 487.69,216.29 488.3,217.06 488.9,217.82 489.49,218.59 490.06,219.37 490.63,220.14 491.17,220.92 491.71,221.7 492.23,222.48 492.74,223.27 493.23,224.06 493.71,224.85 494.17,225.64 494.63,226.44 495.06,227.23 495.49,228.03" fill="#D15854" stroke="#fff" stroke-width="1.5" stroke-linejoin="round"/><polygon points="307.5,246.7 495.49,228.03 495.9,228.83 496.29,229.63 496.67,230.43 497.03,231.23 497.38,232.04 497.72,232.85 498.05,233.65 498.35,234.47 498.65,235.28 498.93,236.09 499.2,236.91 499.45,237.72 499.68,238.54 499.91,239.36 500.12,240.18 500.31,241 500.49,241.82 500.65,242.65 500.8,243.47 500.94,244.3 501.06,245.13 501.17,245.95 501.26,246.78 501.34,247.61 501.4,248.44 501.44,249.27 501.48,250.1 501.49,250.93 501.5,251.77 501.48,252.6 501.46,253.43 501.42,254.26 501.36,255.1 501.29,255.93 501.2,256.76 501.1,257.6 500.98,258.43 500.85,259.26 500.7,260.09 500.54,260.93 500.36,261.76 500.17,262.59 499.96,263.42 499.74,264.25 499.5,265.08 499.25,265.91 498.99,266.74 498.7,267.57 498.41,268.39 498.09,269.22 497.77,270.04 497.42,270.87 497.07,271.69 496.69,272.51 496.31,273.33 495.9,274.15 495.49,274.96 495.05,275.78 494.61,276.59 494.14,277.41 493.67,278.22 493.18,279.03 492.67,279.83 492.15,280.64 491.61,281.44 491.06,282.24 490.49,283.04 489.91,283.84 489.32,284.63 488.71,285.43 488.08,286.22 487.44,287 486.79,287.79 486.12,288.57 485.44,289.35 484.74,290.13 484.03,290.9 483.3,291.67 482.56,292.44 481.8,293.21 481.03,293.97 480.25,294.73 479.45,295.49 478.64,296.24 477.81,296.99 476.97,297.73 476.12,298.48 475.25,299.22 474.37,299.95 473.47,300.69 472.56,301.41 471.64,302.14 470.7,302.86 469.75,303.58 468.79,304.29 467.81,305 466.82,305.7 465.82,306.4 464.8,307.1 463.77,307.79 462.73,308.48 461.67,309.17 460.6,309.84 459.52,310.52 458.42,311.19 457.32,311.86 456.2,312.52 455.06,313.17 453.92,313.82 452.76,314.47 451.59,315.11 450.41,315.75 449.21,316.38 448.01,317 446.79,317.63 445.56,318.24 444.32,318.85 443.07,319.46 441.8,320.06 440.52,320.65 439.24,321.24 437.94,321.82 436.63,322.4" fill="#A6CB60" stroke="#fff" stroke-width="1.5" stroke-linejoin="round"/><polygon points="307.5,246.7 436.63,322.4 435.29,322.98 433.95,323.55 432.59,324.12 431.22,324.68 429.84,325.23 428.45,325.78 427.05,326.32 425.64,326.86 424.22,327.38 422.79,327.91 421.34,328.42 419.89,328.93 418.43,329.44 416.96,329.94 415.48,330.43 413.99,330.91 412.49,331.39 410.98,331.86 409.46,332.32 407.93,332.78 406.39,333.23 404.85,333.68 403.29,334.11 401.73,334.54 400.16,334.97 398.58,335.38 396.99,335.79 395.4,336.19 393.79,336.59 392.18,336.97 390.56,337.35 388.94,337.73 387.31,338.09 385.66,338.45 384.02,338.8 382.36,339.14 380.7,339.48 379.03,339.81 377.36,340.13 375.68,340.44 373.99,340.75 372.3,341.05 370.6,341.34 368.9,341.62 367.19,341.89 365.48,342.16" fill="#8B6DB0" stroke="#fff" stroke-width="1.5" stroke-linejoin="round"/><polygon points="307.5,246.7 365.48,342.16 363.76,342.42 362.03,342.67 360.3,342.92 358.57,343.15 356.83,343.38 355.08,343.6 353.34,343.81 351.58,344.02 349.83,344.21 348.07,344.4 346.3,344.58 344.54,344.76 342.77,344.92 340.99,345.08 339.22,345.22 337.44,345.37 335.65,345.5 333.87,345.62 332.08,345.74 330.29,345.85 328.5,345.94 326.71,346.04 324.91,346.12 323.12,346.19 321.32,346.26 319.52,346.32 317.72,346.37 315.92,346.41 314.12,346.45 312.31,346.47 310.51,346.49 308.71,346.5 306.9,346.5 305.1,346.5 303.3,346.48 301.49,346.46 299.69,346.43 297.89,346.39 296.09,346.34 294.29,346.28 292.49,346.22 290.69,346.15 288.9,346.07 287.1,345.98 285.31,345.88 283.52,345.77" fill="#52BBD8" stroke="#fff" stroke-width="1.5" stroke-linejoin="round"/><polygon points="307.5,246.7 283.52,345.77 281.7,345.66 279.87,345.53 278.05,345.4 276.23,345.26 274.42,345.11 272.6,344.95 270.79,344.79 268.99,344.61 267.18,344.43 265.39,344.24 263.59,344.04 261.8,343.83 260.01,343.61 258.23,343.39 256.46,343.16 254.68,342.91 252.92,342.67 251.15,342.41 249.4,342.14 247.65,341.87 245.9,341.59 244.16,341.3 242.43,341 240.7,340.69 238.98,340.38 237.26,340.06 235.55,339.73" fill="#FFA34C" stroke="#fff" stroke-width="1.5" stroke-linejoin="round"/><polygon points="307.5,246.7 235.55,339.73 233.9,339.4 232.26,339.07 230.63,338.73 229,338.38 227.37,338.02 225.76,337.66 224.15,337.29 222.55,336.91 220.96,336.53 219.37,336.13 217.79,335.74 216.22,335.33 214.66,334.92 213.11,334.5 211.56,334.07 210.03,333.64 208.5,333.2 206.98,332.75 205.46,332.3 203.96,331.84 202.47,331.37 200.98,330.9 199.51,330.42 198.04,329.94 196.59,329.44" fill="#30547F" stroke="#fff" stroke-width="1.5" stroke-linejoin="round"/><polygon points="307.5,246.7 196.59,329.44 195.14,328.95 193.71,328.44 192.28,327.93 190.86,327.41 189.46,326.89 188.06,326.36 186.68,325.83 185.3,325.29 183.94,324.74 182.58,324.19 181.24,323.63 179.91,323.06 178.59,322.49 177.28,321.92 175.98,321.34 174.69,320.75 173.41,320.16 172.15,319.56 170.89,318.95 169.65,318.35 168.42,317.73 167.2,317.11 165.99,316.49 164.8,315.86 163.61,315.22 162.44,314.58 161.29,313.94 160.14,313.29 159.01,312.63 157.88,311.97 156.78,311.31 155.68,310.64 154.6,309.97 153.53,309.29 152.47,308.61 151.42,307.92 150.39,307.23 149.37,306.54 148.37,305.84 147.38,305.13 146.4,304.43 145.43,303.71 144.48,303 143.54,302.28 142.62,301.56 141.71,300.83 140.81,300.1 139.92,299.36 139.05,298.63 138.2,297.88 137.36,297.14 136.53,296.39 135.71,295.64 134.91,294.88 134.13,294.13 133.36,293.37 132.6,292.6 131.86,291.83 131.13,291.06 130.41,290.29 129.71,289.52 129.03,288.74 128.36,287.96 127.7,287.17 127.06,286.39 126.43,285.6 125.82,284.81 125.22,284.01 124.63,283.22 124.07,282.42 123.51,281.62 122.97,280.82 122.45,280.02 121.94,279.21 121.44,278.4 120.96,277.59 120.5,276.78 120.05,275.97 119.61,275.15 119.19,274.34 118.79,273.52 118.4,272.7 118.02,271.88 117.66,271.06 117.31,270.24 116.98,269.42 116.67,268.59 116.37,267.77 116.08,266.94 115.81,266.11 115.56,265.28 115.32,264.46 115.09,263.63 114.88,262.8 114.68,261.97 114.5,261.14 114.34,260.3 114.19,259.47 114.05,258.64 113.93,257.81 113.83,256.98 113.73,256.14 113.66,255.31 113.6,254.48 113.55,253.65 113.52,252.82 113.51,251.99 113.5,251.15 113.52,250.32 113.55,249.49 113.59,248.66 113.65,247.83 113.72,247.01 113.81,246.18 113.91,245.35 114.03,244.52 114.16,243.7 114.3,242.87 114.46,242.05 114.64,241.23 114.83,240.41 115.03,239.59 115.25,238.77 115.48,237.95 115.73,237.14 115.99,236.32 116.27,235.51 116.56,234.7 116.86,233.89 117.18,233.08 117.52,232.27 117.86,231.47 118.22,230.66 118.6,229.86 118.99,229.06 119.39,228.27 119.81,227.47 120.24,226.68 120.68,225.89 121.14,225.1 121.61,224.32 122.1,223.53 122.6,222.75 123.11,221.97 123.64,221.2 124.17,220.42 124.73,219.65 125.29,218.88 125.87,218.12 126.46,217.35 127.07,216.59 127.69,215.84 128.32,215.08 128.96,214.33 129.62,213.58 130.29,212.84 130.97,212.1 131.67,211.36 132.38,210.62 133.1,209.89 133.83,209.16 134.58,208.43 135.33,207.71 136.1,206.99 136.89,206.28 137.68,205.57 138.49,204.86 139.31,204.15 140.14,203.45 140.98,202.76 141.83,202.06 142.7,201.37 143.58,200.69 144.46,200.01 145.36,199.33 146.28,198.66 147.2,197.99 148.13,197.32 149.08,196.66 150.04,196.01 151,195.35 151.98,194.7 152.97,194.06 153.97,193.42 154.98,192.79 156,192.15 157.04,191.53" fill="#863432" stroke="#fff" stroke-width="1.5" stroke-linejoin="round"/><polygon points="307.5,246.7 157.04,191.53 158.39,190.72" fill="#67803A" stroke="#fff" stroke-width="1.5" stroke-linejoin="round"/><polygon points="307.5,246.7 158.39,190.72 159.37,190.15" fill="#54406B" stroke="#fff" stroke-width="1.5" stroke-linejoin="round"/><polygon points="307.5,246.7 159.37,190.15 160.46,189.52 161.56,188.9 162.67,188.29 163.79,187.68 164.92,187.07" fill="#2B7387" stroke="#fff" stroke-width="1.5" stroke-linejoin="round"/><polygon points="307.5,246.7 164.92,187.07 166.23,186.38 167.56,185.7 168.9,185.03" fill="#C65F09" stroke="#fff" stroke-width="1.5" stroke-linejoin="round"/><polygon points="307.5,246.7 168.9,185.03 170.28,184.34 171.68,183.66 173.1,182.99 174.52,182.32" fill="#7CA8DC" stroke="#fff" stroke-width="1.5" stroke-linejoin="round"/><polygon points="307.5,246.7 174.52,182.32 175.73,181.77 176.94,181.23 178.16,180.69 179.38,180.16 180.62,179.63 181.87,179.11 183.12,178.59 184.38,178.08 185.65,177.57 186.93,177.07 188.22,176.57 189.52,176.08 190.82,175.6 192.13,175.12 193.45,174.64 194.78,174.17 196.12,173.71 197.46,173.25 198.81,172.8 200.17,172.36 201.53,171.92 202.91,171.48 204.28,171.06 205.67,170.63 207.06,170.22 208.46,169.8 209.87,169.4 211.28,169 212.7,168.61 214.13,168.22 215.56,167.84 217,167.46 218.45,167.09 219.9,166.73 221.35,166.37 222.82,166.02 224.28,165.68 225.76,165.34 227.24,165.01 228.72,164.68 230.21,164.36 231.71,164.04 233.21,163.74 234.71,163.43 236.22,163.14 237.74,162.85 239.25,162.57 240.78,162.29 242.31,162.02 243.84,161.75 245.38,161.5 246.92,161.24 248.46,161 250.01,160.76 251.56,160.53 253.12,160.3 254.68,160.08 256.24,159.87 257.81,159.66 259.38,159.46 260.96,159.27 262.53,159.08 264.11,158.9 265.69,158.72 267.28,158.56 268.87,158.4 270.46,158.24 272.05,158.09 273.65,157.95 275.24,157.81 276.84,157.69 278.44,157.56 280.05,157.45 281.65,157.34 283.26,157.24 284.87,157.14 286.48,157.05 288.09,156.97 289.7,156.89 291.32,156.82 292.93,156.76 294.55,156.7 296.17,156.65 297.78,156.61 299.4,156.58 301.02,156.55 302.64,156.52 304.26,156.51 305.88,156.5 307.5,156.49" fill="#DF7D7B" stroke="#fff" stroke-width="1.5" stroke-linejoin="round"/></g><g fill="none" stroke="#a8acb3" stroke-width="1.2" stroke-linejoin="round" stroke-linecap="round" clip-path="url(#nsil)"><polyline points="395.8,166.91 407.3,143.4 414,143.4"/><polyline points="493.42,278.62 543,337"/><polyline points="403.29,334.11 442.7,412.2 448.2,412.2"/><polyline points="324.91,346.12 343.9,417.7"/><polyline points="259.12,343.5 231,415.8"/><polyline points="215.44,335.13 148.6,409 141.5,409"/><polyline points="114.98,263.21 56,301.2"/><polyline points="157.71,191.13 108.5,207 100.3,207"/><polyline points="158.88,190.44 122.5,186.7 113.9,186.7"/><polyline points="162.11,188.6 134.4,253.3 127.2,253.3"/><polyline points="166.89,186.04 134.9,228.7 127.2,228.7"/><polyline points="171.68,183.66 108.5,162.6 100.3,162.6"/><polyline points="236.22,163.14 229,145.9 222.5,145.9"/></g><g fill="none" stroke="#c2bcbc" stroke-opacity="0.75" stroke-width="1.05" stroke-linejoin="round" clip-path="url(#sil)"><polyline points="395.8,166.91 407.3,143.4 414,143.4"/><polyline points="493.42,278.62 543,337"/><polyline points="403.29,334.11 442.7,412.2 448.2,412.2"/><polyline points="324.91,346.12 343.9,417.7"/><polyline points="259.12,343.5 231,415.8"/><polyline points="215.44,335.13 148.6,409 141.5,409"/><polyline points="114.98,263.21 56,301.2"/><polyline points="157.71,191.13 108.5,207 100.3,207"/><polyline points="158.88,190.44 122.5,186.7 113.9,186.7"/><polyline points="162.11,188.6 134.4,253.3 127.2,253.3"/><polyline points="166.89,186.04 134.9,228.7 127.2,228.7"/><polyline points="171.68,183.66 108.5,162.6 100.3,162.6"/><polyline points="236.22,163.14 229,145.9 222.5,145.9"/></g><g filter="url(#glow)"><rect x="413.1" y="130.8" width="10.8" height="10.4" rx="1.8" fill="#fff"/><rect x="416.25" y="134.05" width="4.5" height="3.9" fill="#4F81BD"/><rect x="470.6" y="209.4" width="10.8" height="10.4" rx="1.8" fill="#fff"/><rect x="473.75" y="212.65" width="4.5" height="3.9" fill="#C0504D"/><rect x="489" y="340.1" width="10.8" height="10.4" rx="1.8" fill="#fff"/><rect x="492.15" y="343.35" width="4.5" height="3.9" fill="#9BBB59"/><rect x="447.6" y="398" width="10.8" height="10.4" rx="1.8" fill="#fff"/><rect x="450.75" y="401.25" width="4.5" height="3.9" fill="#8064A2"/><rect x="294.4" y="423.3" width="10.8" height="10.4" rx="1.8" fill="#fff"/><rect x="297.55" y="426.55" width="4.5" height="3.9" fill="#4BACC6"/><rect x="180.6" y="421.4" width="10.8" height="10.4" rx="1.8" fill="#fff"/><rect x="183.75" y="424.65" width="4.5" height="3.9" fill="#F79646"/><rect x="35.9" y="396" width="10.8" height="10.4" rx="1.8" fill="#fff"/><rect x="39.05" y="399.25" width="4.5" height="3.9" fill="#2C4D75"/><rect x="1" y="307.1" width="10.8" height="10.4" rx="1.8" fill="#fff"/><rect x="4.15" y="310.35" width="4.5" height="3.9" fill="#772C2A"/><rect x="1" y="201.6" width="10.8" height="10.4" rx="1.8" fill="#fff"/><rect x="4.15" y="204.85" width="4.5" height="3.9" fill="#5F7530"/><rect x="1" y="181.8" width="10.8" height="10.4" rx="1.8" fill="#fff"/><rect x="4.15" y="185.05" width="4.5" height="3.9" fill="#4D3B62"/><rect x="1" y="248.1" width="10.8" height="10.4" rx="1.8" fill="#fff"/><rect x="4.15" y="251.35" width="4.5" height="3.9" fill="#276A7C"/><rect x="1" y="223.5" width="10.8" height="10.4" rx="1.8" fill="#fff"/><rect x="4.15" y="226.75" width="4.5" height="3.9" fill="#B65708"/><rect x="1" y="158.1" width="10.8" height="10.4" rx="1.8" fill="#fff"/><rect x="4.15" y="161.35" width="4.5" height="3.9" fill="#729ACA"/><rect x="115" y="140.6" width="10.8" height="10.4" rx="1.8" fill="#fff"/><rect x="118.15" y="143.85" width="4.5" height="3.9" fill="#CD7371"/><g fill="#0a0e1a" stroke="#0a0e1a" stroke-width="0.3" font-size="13.33" font-family="&quot;Liberation Serif&quot;, &quot;Noto Serif CJK SC&quot;, serif"><text x="428.8" y="140.9">互联网文化</text><text x="487" y="219.7">新闻出版</text><text x="503.5" y="350.4">旅游</text><text x="462.5" y="408.1">歌舞娱乐场所</text><text x="308.7" y="433.5">版权</text><text x="195.5" y="431.8">网吧</text><text x="51.1" y="406.3">游艺娱乐场所</text><text x="16" y="317.4">演出</text><text x="16.7" y="211.9">音像</text><text x="16.7" y="192.1">艺术品</text><text x="16.7" y="258.4">艺术考级</text><text x="16" y="233.8">广播影视</text><text x="16.7" y="168.4">文物</text><text x="130.5" y="150.9">其它</text></g><g fill="#05080f" stroke="#05080f" stroke-width="0.65" font-size="13.33" font-family="&quot;DejaVu Sans&quot;, &quot;Liberation Sans&quot;, sans-serif"><text x="496.75" y="140.7">,</text><text x="440.8" y="157.2">15.79%</text><text x="541.62" y="219.5">, 6.02%</text><text x="531.46" y="350.2">, 17.12%</text><text x="543.78" y="407.9">,</text><text x="485.8" y="424.6">6.47%</text><text x="336.66" y="433.3">, 6.47%</text><text x="223.46" y="431.6">, 3.88%</text><text x="132.38" y="406.1">,</text><text x="75.1" y="422.8">3.48%</text><text x="43.96" y="317.2">, 26.00%</text><text x="44.66" y="211.7">, 0.18%</text><text x="57.99" y="191.9">, 0.13%</text><text x="71.32" y="258.2">, 0.71%</text><text x="70.62" y="233.6">, 0.49%</text><text x="44.66" y="168.2">, 0.67%</text><text x="158.46" y="150.7">, 12.58%</text></g></g></svg><div class="sr"><h1>2024年第三季度举报领域分析</h1><ul><li>互联网文化, 15.79%</li><li>新闻出版, 6.02%</li><li>旅游, 17.12%</li><li>歌舞娱乐场所, 6.47%</li><li>版权, 6.47%</li><li>网吧, 3.88%</li><li>游艺娱乐场所, 3.48%</li><li>演出, 26.00%</li><li>音像, 0.18%</li><li>艺术品, 0.13%</li><li>艺术考级, 0.71%</li><li>广播影视, 0.49%</li><li>文物, 0.67%</li><li>其它, 12.58%</li></ul></div></div></body></html>
